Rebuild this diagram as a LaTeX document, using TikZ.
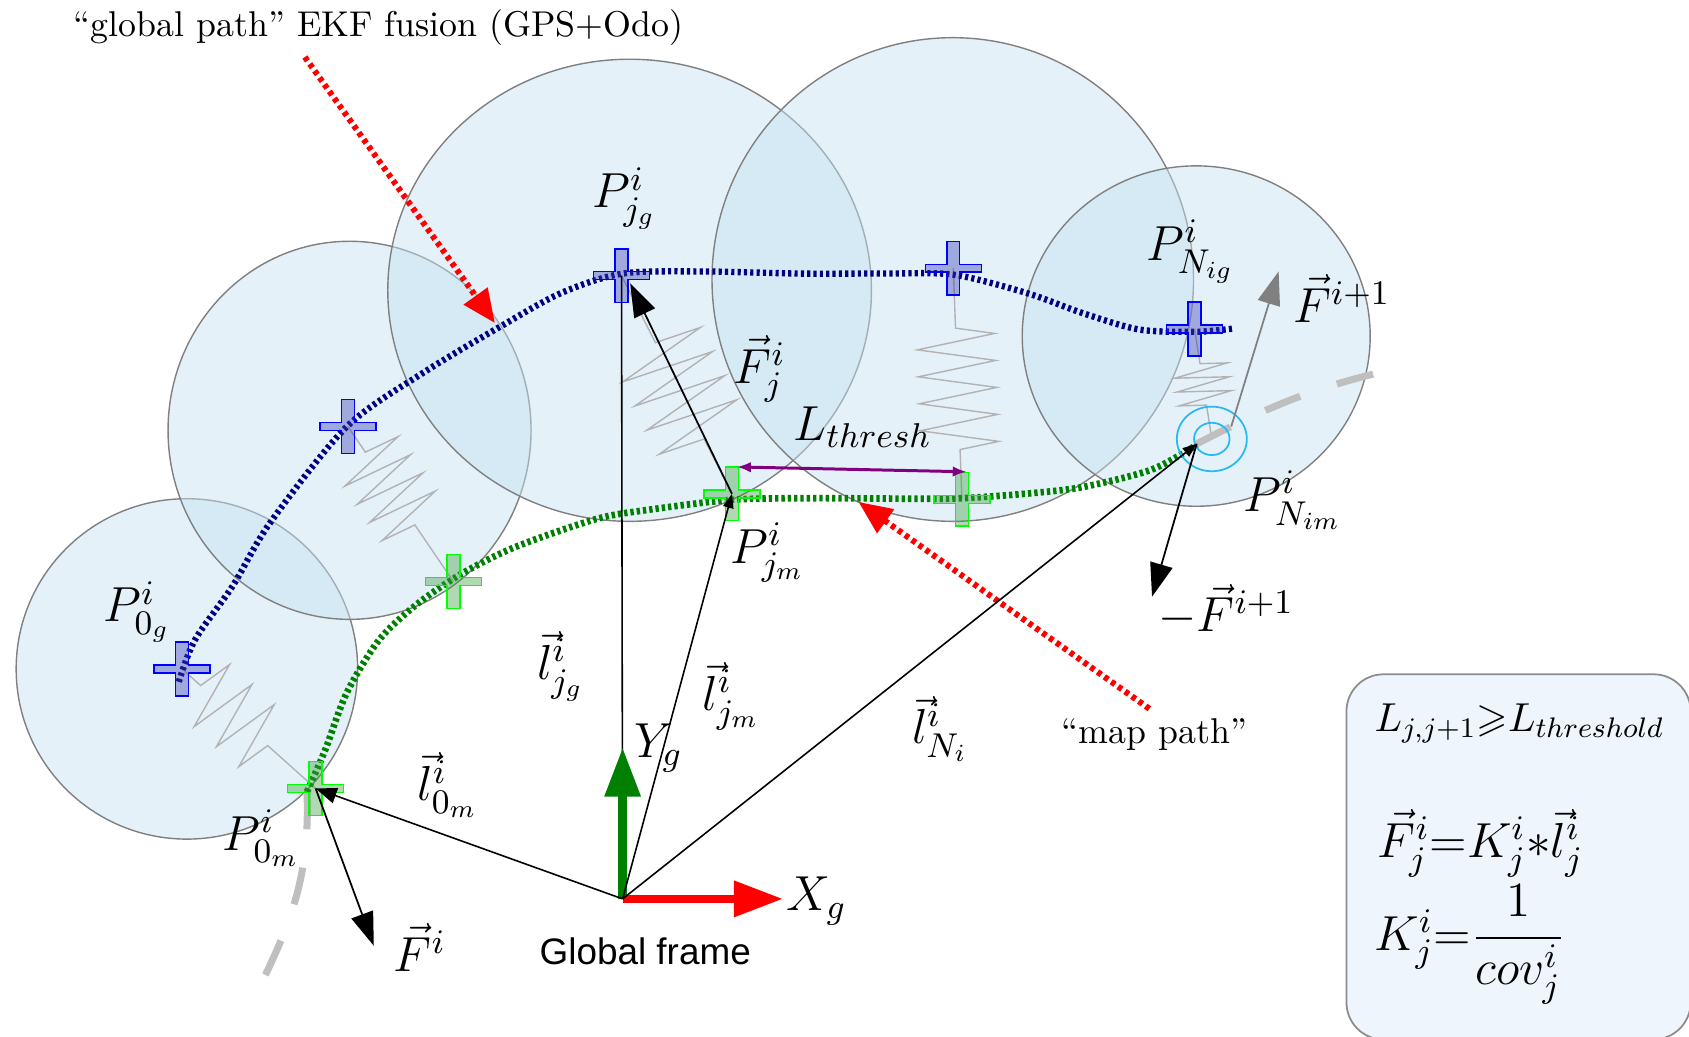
\RequirePackage{fix-cm}
\documentclass[tikz,border=0pt]{standalone}
\usepackage{amsmath,amssymb}
\usepackage{fontspec}
\newfontfamily\framefont{Liberation Sans}
\usetikzlibrary{arrows.meta,decorations.pathmorphing}
\definecolor{covfill}{RGB}{199,226,242}
\definecolor{gpathcol}{RGB}{0,0,128}
\definecolor{mpathcol}{RGB}{0,128,0}
\definecolor{boxfill}{RGB}{238,245,252}
\definecolor{ringcol}{RGB}{40,185,240}
\definecolor{lthcol}{RGB}{128,0,128}
\def\armh{2.6}
\def\armv{2.5}
\def\barh{0.37}
\def\barv{0.6}

\begin{document}
\begin{tikzpicture}[x=1.0772mm,y=1.0772mm,
		cov/.style={fill=covfill,fill opacity=0.48,draw=black!50,line width=0.4pt},
		gx/.style={fill={rgb,255:red,60;green,60;blue,180},fill opacity=0.4,draw=blue,line width=0.4pt},
		mx/.style={fill={rgb,255:red,60;green,160;blue,60},fill opacity=0.4,draw=green,line width=0.4pt},
		spr/.style={draw=black!30,line width=0.4pt,decorate,decoration={zigzag,#1}},
		gpath/.style={draw=gpathcol,line width=1.8pt,dash pattern=on 0.9pt off 0.9pt},
		mpath/.style={draw=mpathcol,line width=1.9pt,dash pattern=on 0.95pt off 0.85pt},
		rest/.style={draw=black!25,line width=2pt,dash pattern=on 10.7pt off 11pt},
		ring/.style={draw=ringcol,line width=0.5pt},
		v/.style={line width=0.45pt,-{Triangle[length=4pt,width=3pt]}},
		f/.style={line width=0.5pt,-{Triangle[length=9.5pt,width=6.5pt]}},
		axis/.style={line width=2.4pt,-{Triangle[length=14pt,width=9.8pt]}},
		hint/.style={draw=red,line width=1.7pt,dash pattern=on 1.3pt off 1.1pt,-{Triangle[length=9.5pt,width=8pt]}},
		lth/.style={draw=lthcol,line width=0.85pt,{Latex[length=4pt,width=3pt]}-{Latex[length=4pt,width=3pt]}},
		lbl/.style={font=\fontsize{14}{16}\selectfont,inner sep=0pt,anchor=base west},
		txt/.style={font=\fontsize{10.2}{12}\selectfont,inner sep=0pt,anchor=base west},
		frm/.style={font=\fontsize{14}{16}\selectfont,inner sep=0pt,anchor=base west},
		box/.style={rounded corners=3.7mm,fill=boxfill,draw=black!45,line width=0.5pt}]
	
	\useasboundingbox (0,0) rectangle (156.8,96.2);
	
	% ============ Posen: global path (g) und map path (m) ============
	\coordinate (pg0) at (16.9,34.1);
	\coordinate (pg1) at (32.3,56.6);
	\coordinate (pg2) at (57.7,70.6);
	\coordinate (pg3) at (88.5,71.3);
	\coordinate (pg4) at (110.9,65.65);
	\coordinate (pm0) at (29.3,23.0);
	\coordinate (pm1) at (42.1,42.2);
	\coordinate (pm2) at (67.95,50.35);
	\coordinate (pm3) at (89.3,49.85);
	\coordinate (pmN) at (111.1,55.0);
	\coordinate (mstart) at (28.5,22.7);
	\coordinate (ringc) at (112.5,55.45);
	\coordinate (O) at (57.8,12.75);
	
	% ============ Kovarianz-Ellipsen ============
	\draw[cov] (17.35,34.1) ellipse [x radius=15.85,y radius=15.8];
	\draw[cov] (32.45,56.25) ellipse [x radius=16.85,y radius=17.55];
	\draw[cov] (58.45,69.25) ellipse [x radius=22.45,y radius=21.45];
	\draw[cov] (88.45,70.25) ellipse [x radius=22.35,y radius=22.45];
	\draw[cov] (111.05,65.0) ellipse [x radius=16.15,y radius=15.8];
	
	% ============ Federn zwischen g und m ============
	\draw[spr={segment length=3mm,amplitude=3.5mm,pre length=2.5mm,post length=5mm}] (pg0) -- (pm0);
	\draw[spr={segment length=2.2mm,amplitude=3.6mm,pre length=3.1mm,post length=6.7mm}] (pg1) -- (pm1);
	\draw[spr={segment length=2.7mm,amplitude=4.7mm,pre length=7.5mm,post length=5.6mm}] (pg2) -- (pm2);
	\draw[spr={segment length=2.7mm,amplitude=3.9mm,pre length=6mm,post length=4.9mm}] (pg3) -- (pm3);
	\draw[spr={segment length=1.4mm,amplitude=2.7mm,pre length=3.5mm,post length=3.3mm}] (pg4) -- (ringc);
	
	% ============ Pfade ============
	\coordinate (restlow) at (24.4,5.2);
	\coordinate (resttop) at (127.6,61.5);
	\draw[rest] (mstart) to[out=-88,in=64] (restlow);
	\draw[rest] (pmN) to[out=27,in=194] (resttop);
	\draw[gpath] plot[smooth] coordinates {(16.6,32.9) (18.1,36.8) (21.6,41.8) (25.1,47.7)
		(32.2,56.6) (39.3,61.6) (46.4,65.85) (52.1,69.0) (57.8,70.8) (65,71.0) (74.3,70.8)
		(82,70.8) (88.5,70.7) (95.3,69.0) (100.6,67.1) (105.8,65.6) (111.1,65.4) (114.5,65.7)};
	\draw[mpath] plot[smooth] coordinates {(28.5,22.7) (30.2,26.6) (32.2,31.9) (35.2,36.8)
		(38.7,40.1) (42.8,42.9) (47.8,45.4) (55.3,48.0) (60.05,48.85) (67.96,49.8) (75.5,49.95)
		(84.8,49.9) (89.4,49.95) (95.6,50.4) (100.6,51.0) (106.9,52.6) (111.1,54.9)};
	\draw[ring] (ringc) ellipse [x radius=3.25,y radius=3.0];
	\draw[ring] (ringc) ellipse [x radius=1.65,y radius=1.5];
	
	% Kreuze
	\foreach \p in {pg0,pg1,pg2,pg3,pg4}
		\draw[gx,shift={(\p)}] (-\barv,\barh) -- (-\barv,\armv) -- (\barv,\armv) -- (\barv,\barh)
			-- (\armh,\barh) -- (\armh,-\barh) -- (\barv,-\barh) -- (\barv,-\armv) -- (-\barv,-\armv)
			-- (-\barv,-\barh) -- (-\armh,-\barh) -- (-\armh,\barh) -- cycle;
	\foreach \p in {pm0,pm1,pm2,pm3}
		\draw[mx,shift={(\p)}] (-\barv,\barh) -- (-\barv,\armv) -- (\barv,\armv) -- (\barv,\barh)
			-- (\armh,\barh) -- (\armh,-\barh) -- (\barv,-\barh) -- (\barv,-\armv) -- (-\barv,-\armv)
			-- (-\barv,-\barh) -- (-\armh,-\barh) -- (-\armh,\barh) -- cycle;
	
	% ============ Hinweispfeile ============
	\coordinate (hint1) at (28.3,90.9);
	\coordinate (hint1tip) at (45.95,66.2);
	\coordinate (hint2) at (106.7,30.4);
	\coordinate (hint2tip) at (79.7,49.6);
	\draw[hint] (hint1) -- (hint1tip);
	\draw[hint] (hint2) -- (hint2tip);
	
	% ============ Global frame und Vektoren ============
	\coordinate (xtip) at (72.7,12.75);
	\coordinate (ytip) at (57.8,26.8);
	\draw[line width=0.45pt] (O) -- (pg2);
	\draw[axis,mpathcol] (O) -- (ytip);
	\draw[axis,red] (O) -- (xtip);
	\draw[v] (O) -- (pm2);
	\draw[v] (O) -- (pmN);
	\draw[line width=0.45pt,-{Triangle[length=6pt,width=4.5pt]}] (O) -- (pm0);
	
	% Kraefte
	\coordinate (fitip) at (34.7,8.4);
	\coordinate (fjtip) at (58.5,69.9);
	\coordinate (mftip) at (106.95,40.8);
	\coordinate (fstart) at (114.3,56.6);
	\coordinate (fnexttip) at (118.7,71.0);
	\draw[f] (pm0) -- (fitip);
	\draw[f] (pm2) -- (fjtip);
	\draw[f] (pmN) -- (mftip);
	\draw[f,gray] (fstart) -- (fnexttip);
	\draw[lth] ([shift={(0.45,2.5)}]pm2) -- ([shift={(0.45,2.55)}]pm3);
	
	% ============ Beschriftung ============
	\node[lbl] (lPjg) at (54.95,76.9) {$P^{i}_{j_g}$};
	\node[lbl] (lPNg) at (106.4,72.05) {$P^{i}_{N_{ig}}$};
	\node[lbl] (lP0g) at (9.56,38.46) {$P^{i}_{0_g}$};
	\node[lbl] (lP0m) at (20.6,17.24) {$P^{i}_{0_m}$};
	\node[lbl] (lPjm) at (67.77,43.93) {$P^{i}_{j_m}$};
	\node[lbl] (lPNm) at (115.4,48.7) {$P^{i}_{N_{im}}$};
	\node[lbl] (lFj) at (68.05,60.64) {$\vec{F}^{i}_{j}$};
	\node[lbl] (lLth) at (73.6,55.35) {$L_{thresh}$};
	\node[lbl] (lFn) at (120.0,66.3) {$\vec{F}^{i+1}$};
	\node[lbl] (lmFn) at (107.5,37.55) {$-\vec{F}^{i+1}$};
	\node[lbl] (lFi) at (36.5,6.05) {$\vec{F}^{i}$};
	\node[lbl] (llj) at (49.8,33.1) {$\vec{l}^{i}_{j_g}$};
	\node[lbl] (lljm) at (65.16,30.24) {$\vec{l}^{i}_{j_m}$};
	\node[lbl] (ll0) at (38.7,21.84) {$\vec{l}^{i}_{0_m}$};
	\node[lbl] (llN) at (84.6,27.13) {$\vec{l}^{i}_{N_i}$};
	\node[lbl] (lX) at (72.96,11.63) {$X_g$};
	\node[lbl] (lY) at (58.86,25.83) {$Y_g$};
	\node[font={\framefont\fontsize{10.5}{12}\selectfont},inner sep=0pt,anchor=base] (gframe) at (59.9,6.7) {Global frame};
	\node[txt] (ttl) at (6.8,92.8) {“global path” EKF fusion (GPS+Odo)};
	\node[txt] (tmap) at (98.5,27.14) {“map path”};
	
	% ============ Formeln ============
	\draw[box] (125.0,-0.3) rectangle (156.95,33.6);
	\node[frm,font=\fontsize{11.5}{14}\selectfont] (eq1) at (127.55,28.25) {$L_{j,j+1}{\geqslant}L_{threshold}$};
	\node[frm] (eq2) at (127.85,16.6) {$\vec{F}^{i}_{j}{=}K^{i}_{j}{*}\vec{l}^{i}_{j}$};
	\node[frm] (eq3) at (127.55,8.0) {$K^{i}_{j}{=}\dfrac{1}{cov^{i}_{j}}$};
	
\end{tikzpicture}
\end{document}
